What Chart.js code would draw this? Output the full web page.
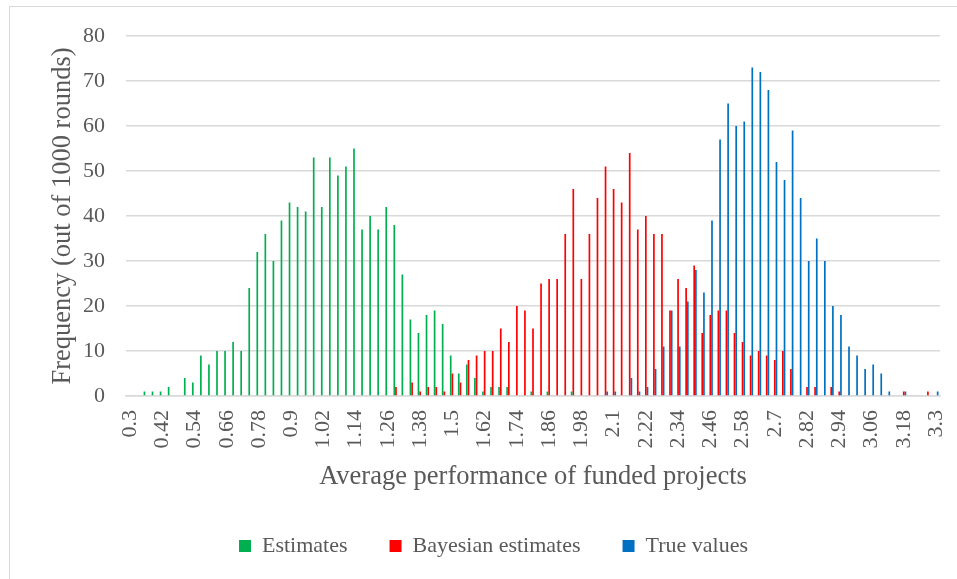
<!DOCTYPE html>
<html>
<head>
<meta charset="utf-8">
<script src="https://cdn.jsdelivr.net/npm/chart.js@4.4.1/dist/chart.umd.min.js"></script>
<style>
  html, body { margin: 0; padding: 0; background: #fff; overflow: hidden; }
  #frame { position: absolute; left: 9px; top: 6px; width: 960px; height: 590px; border: 1px solid #d9d9d9; box-sizing: border-box; }
  #wrap { position: absolute; left: 0; top: 0; width: 957px; height: 579px; }
</style>
</head>
<body>
<div id="frame"></div>
<div id="wrap"><canvas id="myChart"></canvas></div>
<script>
// bins of average performance (step 0.03)
const categories = [
  '0.3', '0.33', '0.36', '0.39', '0.42', '0.45', '0.48', '0.51', '0.54', '0.57',
  '0.6', '0.63', '0.66', '0.69', '0.72', '0.75', '0.78', '0.81', '0.84', '0.87',
  '0.9', '0.93', '0.96', '0.99', '1.02', '1.05', '1.08', '1.11', '1.14', '1.17',
  '1.2', '1.23', '1.26', '1.29', '1.32', '1.35', '1.38', '1.41', '1.44', '1.47',
  '1.5', '1.53', '1.56', '1.59', '1.62', '1.65', '1.68', '1.71', '1.74', '1.77',
  '1.8', '1.83', '1.86', '1.89', '1.92', '1.95', '1.98', '2.01', '2.04', '2.07',
  '2.1', '2.13', '2.16', '2.19', '2.22', '2.25', '2.28', '2.31', '2.34', '2.37',
  '2.4', '2.43', '2.46', '2.49', '2.52', '2.55', '2.58', '2.61', '2.64', '2.67',
  '2.7', '2.73', '2.76', '2.79', '2.82', '2.85', '2.88', '2.91', '2.94', '2.97',
  '3', '3.03', '3.06', '3.09', '3.12', '3.15', '3.18', '3.21', '3.24', '3.27',
  '3.3'
];

// labels actually printed under the axis
const tickLabels = [
  '0.3', '0.42', '0.54', '0.66', '0.78', '0.9', '1.02', '1.14', '1.26', '1.38',
  '1.5', '1.62', '1.74', '1.86', '1.98', '2.1', '2.22', '2.34', '2.46', '2.58',
  '2.7', '2.82', '2.94', '3.06', '3.18', '3.3'
];

const estimates = [
  0, 0, 1, 1, 1, 2, 0, 4, 3, 9,
  7, 10, 10, 12, 10, 24, 32, 36, 30, 39,
  43, 42, 41, 53, 42, 53, 49, 51, 55, 37,
  40, 37, 42, 38, 27, 17, 14, 18, 19, 16,
  9, 5, 7, 4, 1, 2, 2, 2, 0, 0,
  1, 0, 1, 0, 0, 1, 0, 0, 0, 0,
  0, 0, 0, 0, 0, 0, 0, 0, 0, 0,
  0, 0, 0, 0, 0, 0, 0, 0, 0, 0,
  0, 0, 0, 0, 0, 0, 0, 0, 0, 0,
  0, 0, 0, 0, 0, 0, 0, 0, 0, 0,
  0
];

const bayesian = [
  0, 0, 0, 0, 0, 0, 0, 0, 0, 0,
  0, 0, 0, 0, 0, 0, 0, 0, 0, 0,
  0, 0, 0, 0, 0, 0, 0, 0, 0, 0,
  0, 0, 0, 2, 0, 3, 1, 2, 2, 1,
  5, 3, 8, 9, 10, 10, 15, 12, 20, 19,
  15, 25, 26, 26, 36, 46, 26, 36, 44, 51,
  46, 43, 54, 37, 40, 36, 36, 19, 26, 24,
  29, 14, 18, 19, 19, 14, 12, 9, 10, 9,
  8, 10, 6, 0, 2, 2, 0, 2, 1, 0,
  0, 0, 0, 0, 0, 0, 1, 0, 0, 1,
  0
];

const trueValues = [
  0, 0, 0, 0, 0, 0, 0, 0, 0, 0,
  0, 0, 0, 0, 0, 0, 0, 0, 0, 0,
  0, 0, 0, 0, 0, 0, 0, 0, 0, 0,
  0, 0, 0, 0, 0, 0, 0, 0, 0, 0,
  0, 0, 0, 0, 0, 0, 0, 0, 0, 0,
  0, 0, 0, 0, 0, 0, 0, 0, 0, 1,
  1, 0, 4, 1, 2, 6, 11, 19, 11, 21,
  28, 23, 39, 57, 65, 60, 61, 73, 72, 68,
  52, 48, 59, 44, 30, 35, 30, 20, 18, 11,
  9, 6, 7, 5, 1, 0, 1, 0, 0, 0,
  1
];

const textColor = '#595959';
const serif = "'Liberation Serif', 'Times New Roman', serif";

function makeChart() {
  const ctx = document.getElementById('myChart').getContext('2d');
  new Chart(ctx, {
    type: 'bar',
    data: {
      labels: categories,
      datasets: [
        { label: 'Estimates', data: estimates, backgroundColor: '#00b050' },
        { label: 'Bayesian estimates', data: bayesian, backgroundColor: '#ff0000' },
        { label: 'True values', data: trueValues, backgroundColor: '#0070c0' }
      ]
    },
    options: {
      responsive: true,
      maintainAspectRatio: false,
      animation: false,
      datasets: { bar: { categoryPercentage: 0.63, barPercentage: 1.0 } },
      layout: { padding: { left: 47, right: 17, top: 36, bottom: 12 } },
      plugins: {
        tooltip: { enabled: false },
        legend: {
          position: 'bottom',
          labels: {
            color: textColor,
            font: { family: serif, size: 22 },
            boxWidth: 12,
            boxHeight: 12,
            padding: 42
          }
        }
      },
      scales: {
        x: {
          grid: { display: false, drawTicks: false },
          border: { display: true, color: '#d9d9d9', width: 1.5 },
          ticks: {
            autoSkip: false,
            minRotation: 90,
            maxRotation: 90,
            padding: 14,
            color: textColor,
            font: { family: serif, size: 22 },
            callback: function (val, i) {
              const lab = categories[i];
              return tickLabels.includes(lab) && i % 4 === 0 ? lab : '';
            }
          },
          title: {
            display: true,
            text: 'Average performance of funded projects',
            color: textColor,
            font: { family: serif, size: 26.5 },
            padding: { top: 0, bottom: 0 }
          },
          afterFit: function (scale) {
            scale.height = 97;
            scale.paddingLeft = 0;
            scale.paddingRight = 0;
          }
        },
        y: {
          min: 0,
          max: 80,
          grid: { color: '#d9d9d9', lineWidth: 1.5, drawTicks: false },
          border: { display: false },
          ticks: {
            stepSize: 10,
            padding: 21,
            color: textColor,
            font: { family: serif, size: 22 }
          },
          title: {
            display: true,
            text: 'Frequency (out of 1000 rounds)',
            color: textColor,
            font: { family: serif, size: 26.5 },
            padding: { top: 0, bottom: 0 }
          },
          afterFit: function (scale) { scale.width = 79; }
        }
      }
    }
  });
}

window.onload = makeChart;
</script>
</body>
</html>
